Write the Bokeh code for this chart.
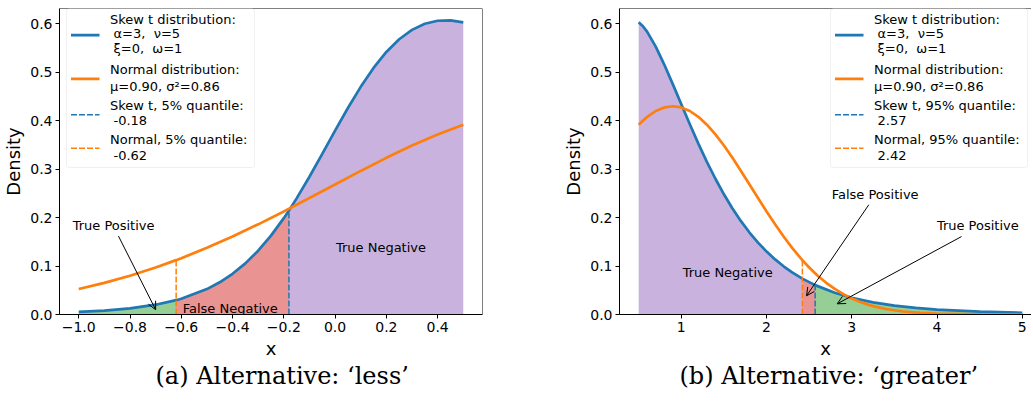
from bokeh.plotting import figure
from bokeh.models import (Range1d, FixedTicker, CustomJSTickFormatter, Label, Arrow,
                          OpenHead, BoxAnnotation, Title, Span)
from bokeh.layouts import row
from bokeh.embed import file_html
from bokeh.resources import INLINE

# ---------------- data ----------------
# panel (a): alternative 'less'
x_skew_less = [-1.0, -0.9, -0.8, -0.7, -0.62, -0.6, -0.5, -0.45, -0.4, -0.35, -0.3,
               -0.25, -0.2, -0.18, -0.15, -0.1, -0.05, 0.0, 0.05, 0.1, 0.15, 0.2,
               0.25, 0.3, 0.35, 0.4, 0.45, 0.5]
skew_less = [0.00527, 0.00808, 0.01272, 0.02023, 0.02956, 0.03251, 0.05245, 0.06648,
             0.08401, 0.10560, 0.13178, 0.16289, 0.19901, 0.21481, 0.23981, 0.28445,
             0.33161, 0.37960, 0.42645, 0.47021, 0.50924, 0.54225, 0.56853, 0.58786,
             0.60042, 0.60672, 0.60747, 0.60338]
x_norm_less = [-1.0, -0.9, -0.8, -0.7, -0.62, -0.6, -0.5, -0.4, -0.3, -0.2, -0.18,
               -0.1, 0.0, 0.1, 0.2, 0.3, 0.4, 0.5]
norm_less = [0.05273, 0.06540, 0.08015, 0.09711, 0.11227, 0.11628, 0.13764, 0.16104,
             0.18623, 0.21289, 0.21835, 0.24053, 0.26862, 0.29653, 0.32356, 0.34895,
             0.37199, 0.39198]
q_skew_less, q_skew_less_dens = -0.18, 0.21481
q_norm_less, q_norm_less_dens = -0.62, 0.11227

# panel (b): alternative 'greater'
x_skew_greater = [0.5, 0.55, 0.6, 0.7, 0.8, 0.9, 1.0, 1.1, 1.2, 1.3, 1.4, 1.5, 1.6,
                  1.7, 1.8, 1.9, 2.0, 2.1, 2.2, 2.3, 2.42, 2.57, 2.8, 3.0, 3.25, 3.5,
                  3.75, 4.0, 4.5, 5.0]
skew_greater = [0.60338, 0.59526, 0.58377, 0.55331, 0.51622, 0.47584, 0.43407,
                0.39278, 0.35296, 0.31533, 0.28035, 0.24824, 0.21906, 0.19281,
                0.16931, 0.14846, 0.13000, 0.11376, 0.09950, 0.08702, 0.07410,
                0.06068, 0.04481, 0.03457, 0.02517, 0.01848, 0.01370, 0.01025,
                0.00589, 0.00351]
x_norm_greater = [0.5, 0.6, 0.7, 0.8, 0.9, 1.0, 1.1, 1.2, 1.3, 1.4, 1.5, 1.6, 1.7,
                  1.8, 1.9, 2.0, 2.1, 2.2, 2.3, 2.4, 2.42, 2.5, 2.6, 2.7, 2.8, 2.9,
                  3.0, 3.1, 3.2, 3.3, 3.4, 3.6, 3.8, 4.0, 4.5, 5.0]
norm_greater = [0.39198, 0.40826, 0.42030, 0.42769, 0.43019, 0.42769, 0.42030,
                0.40826, 0.39198, 0.37199, 0.34895, 0.32356, 0.29653, 0.26862,
                0.24053, 0.21289, 0.18623, 0.16104, 0.13764, 0.11628, 0.11227,
                0.09711, 0.08015, 0.06540, 0.05273, 0.04205, 0.03313, 0.02581,
                0.01986, 0.01511, 0.01137, 0.00621, 0.00324, 0.00161, 0.00023,
                0.00002]
q_skew_greater, q_skew_greater_dens = 2.57, 0.06068
q_norm_greater, q_norm_greater_dens = 2.42, 0.11227

# ticks and texts
x_ticks_less = [-1.0, -0.8, -0.6, -0.4, -0.2, 0.0, 0.2, 0.4]
x_ticks_greater = [1, 2, 3, 4, 5]
y_ticks = [0.0, 0.1, 0.2, 0.3, 0.4, 0.5, 0.6]

legend_less = [["Skew t distribution:", " α=3,  ν=5", " ξ=0,  ω=1"],
               ["Normal distribution:", "μ=0.90, σ²=0.86"],
               ["Skew t, 5% quantile:", " -0.18"],
               ["Normal, 5% quantile:", " -0.62"]]
legend_greater = [["Skew t distribution:", " α=3,  ν=5", " ξ=0,  ω=1"],
                  ["Normal distribution:", "μ=0.90, σ²=0.86"],
                  ["Skew t, 95% quantile:", " 2.57"],
                  ["Normal, 95% quantile:", " 2.42"]]
caption_less = "(a) Alternative: ‘less’"
caption_greater = "(b) Alternative: ‘greater’"

# ---------------- styles ----------------
BLUE, ORANGE = "#1f77b4", "#ff7f0e"
GREEN, RED, PURPLE = "#2ca02c", "#d62728", "#9467bd"
FONT = "DejaVu Sans"
FH = 306
YTOP = 0.632
DASH = "6 2"

LEG_H = 159
LEG_LINE_Y = [[11.3, 25.3, 39.7], [60.7, 78.0], [97.3, 112.0], [130.7, 147.0]]
LEG_HANDLE_Y = [26.7, 70.3, 106.3, 139.7]
LEG_STYLES = [(BLUE, "solid", 2.7), (ORANGE, "solid", 2.7),
              (BLUE, DASH, 1.5), (ORANGE, DASH, 1.5)]


def select(xs, ys, lo, hi):
    sx, sy = [], []
    for a, b in zip(xs, ys):
        if lo - 1e-9 <= a <= hi + 1e-9:
            sx.append(a)
            sy.append(b)
    return sx, sy


def make_fig(xr, fw, bl, br, xticks, fmt):
    p = figure(x_range=Range1d(*xr), y_range=Range1d(0, YTOP),
               frame_width=fw, frame_height=FH,
               min_border_left=bl, min_border_right=br, min_border_top=8,
               min_border_bottom=82, toolbar_location=None, output_backend="svg",
               background_fill_color="white", border_fill_color="white")
    p.grid.visible = False
    for ax in (p.xaxis[0], p.yaxis[0]):
        ax.major_tick_in = 0
        ax.major_tick_out = 4
        ax.minor_tick_line_color = None
        ax.major_tick_line_color = "black"
        ax.major_label_text_font = FONT
        ax.major_label_text_font_size = "14px"
        ax.major_label_text_color = "black"
        ax.major_label_standoff = 3
        ax.axis_label_text_font = FONT
        ax.axis_label_text_font_size = "18px"
        ax.axis_label_text_font_style = "normal"
        ax.axis_label_text_color = "black"
        ax.axis_label_standoff = 3
        ax.axis_line_color = "black"
    p.xaxis.ticker = FixedTicker(ticks=xticks)
    p.xaxis.formatter = CustomJSTickFormatter(code=fmt)
    p.yaxis.ticker = FixedTicker(ticks=y_ticks)
    p.yaxis.formatter = CustomJSTickFormatter(code="return tick.toFixed(1);")
    p.xaxis.axis_label = "x"
    p.yaxis.axis_label = "Density"
    p.outline_line_color = None
    p.add_layout(Span(location=YTOP, dimension="width", line_color="black", line_width=1))
    return p


def add_legend(p, fw, box_left, box_top, box_w, items):
    xr, yr = p.x_range, p.y_range
    X = lambda px: xr.start + px / fw * (xr.end - xr.start)
    Y = lambda py: yr.end - py / FH * (yr.end - yr.start)
    p.add_layout(BoxAnnotation(left=X(box_left), right=X(box_left + box_w),
                               top=Y(box_top), bottom=Y(box_top + LEG_H),
                               fill_color="white", fill_alpha=0.8,
                               line_color="#cccccc", line_width=1, border_radius=3))
    for k, lines in enumerate(items):
        color, dash, lw = LEG_STYLES[k]
        hy = Y(box_top + LEG_HANDLE_Y[k])
        p.add_layout(Arrow(start=None, end=None, x_start=X(box_left + 4.5), y_start=hy,
                           x_end=X(box_left + 33), y_end=hy, line_color=color,
                           line_width=lw, line_dash=dash))
        for j, t in enumerate(lines):
            off = 3.5 if t.startswith(" ") else 0
            t = t.strip().replace("  ", "\u00a0 ")
            p.add_layout(Label(x=X(box_left + 43.5 + off), y=Y(box_top + LEG_LINE_Y[k][j]),
                               text=t, text_font=FONT, text_font_size="13px",
                               text_baseline="middle", text_align="left",
                               text_color="black"))


def add_note(p, text, x, y):
    p.add_layout(Label(x=x, y=y, text=text, text_font=FONT, text_font_size="13px",
                       text_align="center", text_baseline="middle", text_color="black"))


def add_arrow(p, x0, y0, x1, y1):
    p.add_layout(Arrow(end=OpenHead(size=8, line_width=1, line_color="black"),
                       x_start=x0, y_start=y0, x_end=x1, y_end=y1,
                       line_color="black", line_width=1))


def add_caption(p, text, offset):
    p.add_layout(Title(text=text, align="left", offset=offset, standoff=0,
                       vertical_align="top", text_line_height=0.9,
                       text_font="DejaVu Serif", text_font_size="24px",
                       text_font_style="normal", text_color="black"), "below")


# ---------------- panel (a) ----------------
FW1 = 423
p1 = make_fig((-1.075, 0.575), FW1, 52, 78, x_ticks_less,
              "return tick.toFixed(1).replace('-', '\u2212');")
gx, gy = select(x_skew_less, skew_less, -10, q_norm_less)
p1.varea(x=gx, y1=0, y2=gy, fill_color=GREEN, fill_alpha=0.5)
rx, ry = select(x_skew_less, skew_less, q_norm_less, q_skew_less)
p1.varea(x=rx, y1=0, y2=ry, fill_color=RED, fill_alpha=0.5)
ux, uy = select(x_skew_less, skew_less, q_skew_less, 10)
p1.varea(x=ux, y1=0, y2=uy, fill_color=PURPLE, fill_alpha=0.5)
p1.line(x_skew_less, skew_less, line_color=BLUE, line_width=2.7)
p1.line(x_norm_less, norm_less, line_color=ORANGE, line_width=2.7)
p1.segment(x0=[q_skew_less], y0=[0], x1=[q_skew_less], y1=[q_skew_less_dens],
           line_color=BLUE, line_width=1.5, line_dash=DASH)
p1.segment(x0=[q_norm_less], y0=[0], x1=[q_norm_less], y1=[q_norm_less_dens],
           line_color=ORANGE, line_width=1.5, line_dash=DASH)
add_note(p1, "True Positive", -0.864, 0.183)
add_arrow(p1, -0.845, 0.162, -0.70, 0.01)
add_note(p1, "False Negative", -0.409, 0.0132)
add_note(p1, "True Negative", 0.179, 0.1384)
add_legend(p1, FW1, 7, 0, 188, legend_less)
p1.add_layout(Span(location=0.575, dimension="height", line_color="black", line_width=1))
add_caption(p1, caption_less, 96)

# ---------------- panel (b) ----------------
FW2 = 412
p2 = make_fig((0.275, 0.275 + FW2 / 85.25), FW2, 52, 0, x_ticks_greater,
              "return tick.toFixed(0);")
ux, uy = select(x_skew_greater, skew_greater, -10, q_norm_greater)
p2.varea(x=ux, y1=0, y2=uy, fill_color=PURPLE, fill_alpha=0.5)
rx, ry = select(x_skew_greater, skew_greater, q_norm_greater, q_skew_greater)
p2.varea(x=rx, y1=0, y2=ry, fill_color=RED, fill_alpha=0.5)
gx, gy = select(x_skew_greater, skew_greater, q_skew_greater, 10)
p2.varea(x=gx, y1=0, y2=gy, fill_color=GREEN, fill_alpha=0.5)
p2.line(x_skew_greater, skew_greater, line_color=BLUE, line_width=2.7)
p2.line(x_norm_greater, norm_greater, line_color=ORANGE, line_width=2.7)
p2.segment(x0=[q_skew_greater], y0=[0], x1=[q_skew_greater], y1=[q_skew_greater_dens],
           line_color=BLUE, line_width=1.5, line_dash=DASH)
p2.segment(x0=[q_norm_greater], y0=[0], x1=[q_norm_greater], y1=[q_norm_greater_dens],
           line_color=ORANGE, line_width=1.5, line_dash=DASH)
add_note(p2, "True Negative", 1.544, 0.0876)
add_note(p2, "False Positive", 3.274, 0.247)
add_arrow(p2, 3.199, 0.2266, 2.469, 0.0386)
add_note(p2, "True Positive", 4.478, 0.183)
add_arrow(p2, 4.287, 0.161, 2.829, 0.0221)
add_legend(p2, FW2, FW2 - 4 - 197, 0, 197, legend_greater)
add_caption(p2, caption_greater, 60)

layout = row(p1, p2)
open("out.html", "w").write(file_html(layout, INLINE))
